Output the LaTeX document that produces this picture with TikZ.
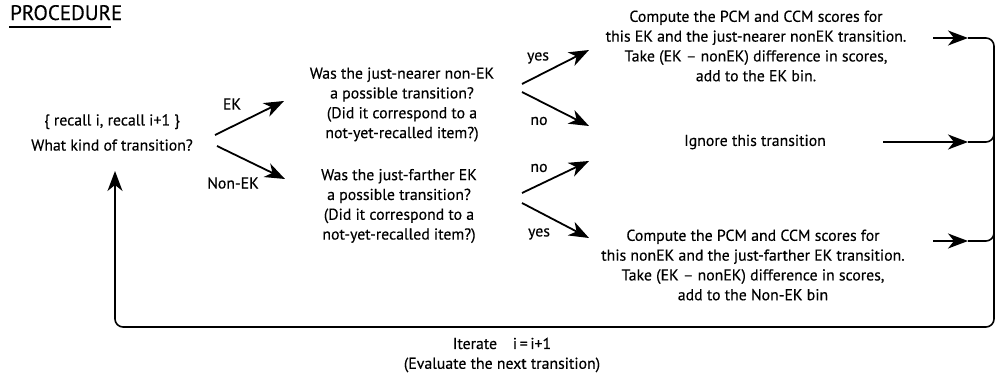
\documentclass[tikz,border=0pt]{standalone}
\usepackage{fontspec}
\setmainfont{PT Sans}[FakeBold=0.3]
\usetikzlibrary{arrows.meta}
\begin{document}
\begin{tikzpicture}[x=1pt,y=-1pt,
  txt/.style={font=\fontsize{15.8}{19.8}\selectfont, align=center, inner sep=0pt},
  lbl/.style={font=\fontsize{15.8}{19.8}\selectfont, inner sep=0pt},
  tipshape/.style={-{Stealth[length=20pt,width=15pt,inset=6pt]}},
  branch/.style={line width=1.8pt, tipshape},
  loopline/.style={line width=1.6pt, rounded corners=8pt},
  midhead/.style={line width=1.6pt, tipshape},
  backhead/.style={loopline, tipshape},
]
\useasboundingbox (0,0) rectangle (997,380);

% title
\node[anchor=base west, inner sep=0pt, font=\fontsize{21}{24}\selectfont] (title) at (10,20) {PROCEDURE};
\coordinate (ulA) at (9,27);
\coordinate (ulB) at (111,27);
\draw[line width=1.6pt] (ulA) -- (ulB);

% texts
\node[txt] (start) at (112,132.5) {\{ recall i, recall i+1 \}\\[5.3pt]What kind of transition?};
\node[txt] (q1) at (402,104.5) {Was the just-nearer non-EK\\a possible transition?\\(Did it correspond to a\\not-yet-recalled item?)};
\node[txt] (q2) at (399,206) {Was the just-farther EK\\a possible transition?\\(Did it correspond to a\\not-yet-recalled item?)};
\node[txt] (r1) at (756,46) {Compute the PCM and CCM scores for\\this EK and the just-nearer nonEK transition.\\Take (EK -- nonEK) difference in scores,\\add to the EK bin.};
\node[txt] (r2) at (755,142) {Ignore this transition};
\node[txt] (r3) at (753,265) {Compute the PCM and CCM scores for\\this nonEK and the just-farther EK transition.\\Take (EK -- nonEK) difference in scores,\\add to the Non-EK bin};
\node[txt] (iter) at (502,355) {Iterate\quad i\,=\,i+1\\(Evaluate the next transition)};

% labels
\node[lbl] (ek) at (232,104) {EK};
\node[lbl] (nonek) at (233,183) {Non-EK};
\node[lbl] (yes1) at (538,58) {yes};
\node[lbl] (no1) at (539,121) {no};
\node[lbl] (no2) at (539,168) {no};
\node[lbl] (yes2) at (539,234) {yes};

% branch arrows
\coordinate (ekS) at (215,135);  \coordinate (ekE) at (284,101);
\coordinate (nekS) at (217,146); \coordinate (nekE) at (285,179);
\coordinate (y1S) at (522,84);   \coordinate (y1E) at (589,50);
\coordinate (n1S) at (522,92);   \coordinate (n1E) at (589,126);
\coordinate (n2S) at (522,193);  \coordinate (n2E) at (589,161);
\coordinate (y2S) at (522,203);  \coordinate (y2E) at (589,238);
\draw[branch] (ekS) -- (ekE);
\draw[branch] (nekS) -- (nekE);
\draw[branch] (y1S) -- (y1E);
\draw[branch] (n1S) -- (n1E);
\draw[branch] (n2S) -- (n2E);
\draw[branch] (y2S) -- (y2E);

% outcome arrows and loop
\coordinate (o1S) at (933,38);  \coordinate (o1T) at (968,38);
\coordinate (o2S) at (883,142); \coordinate (o2T) at (968,142);
\coordinate (o3S) at (933,241); \coordinate (o3T) at (968,241);
\coordinate (c1) at (994,38);
\coordinate (c2) at (994,142);
\coordinate (c3) at (994,241);
\coordinate (c4) at (994,327);
\coordinate (c5) at (115,327);
\coordinate (back) at (115,171);
\draw[midhead] (o1S) -- (o1T);
\draw[midhead] (o2S) -- (o2T);
\draw[midhead] (o3S) -- (o3T);
\draw[backhead] (o1T) -- (c1) -- (c4) -- (c5) -- (back);
\draw[loopline] (o2T) -- (c2) -- ([yshift=15pt]c2);
\draw[loopline] (o3T) -- (c3) -- ([yshift=15pt]c3);
\end{tikzpicture}
\end{document}
